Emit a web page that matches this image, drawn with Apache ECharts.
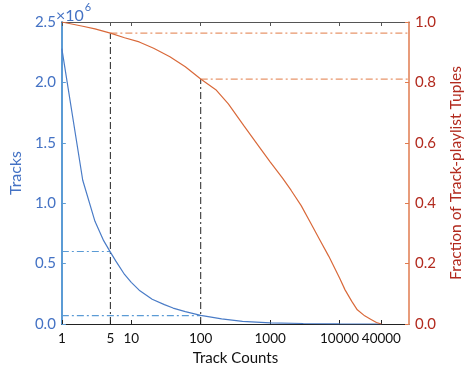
<!DOCTYPE html>
<html><head><meta charset="utf-8">
<script src="https://cdn.jsdelivr.net/npm/echarts@6/dist/echarts.min.js"></script>
<style>html,body{margin:0;padding:0;background:#fff}#c{width:472px;height:373px}</style>
</head><body><div id="c"></div>
<script>
// Data (track counts on log x axis)
const xTicks = [1, 5, 10, 100, 1000, 10000, 40000];
const yLeftTicks = [0, 0.5, 1.0, 1.5, 2.0, 2.5];
const yRightTicks = [0, 0.2, 0.4, 0.6, 0.8, 1.0];

const tracksX = [1, 2, 3, 4, 5, 6, 8, 10, 13, 20, 30, 40, 60, 100, 200, 400, 1000, 3000, 10000, 40000];
const tracksY = [2.28, 1.19, 0.85, 0.69, 0.595, 0.52, 0.41, 0.345, 0.28, 0.205, 0.16, 0.132, 0.103, 0.072, 0.042, 0.022, 0.01, 0.004, 0.001, 0.0];

const fracX = [1, 2, 3, 5, 8, 13, 21, 36, 60, 100, 165, 250, 420, 700, 1000, 1500, 2000, 2800, 3800, 5200, 7000, 10000, 12000, 15000, 18000, 23000, 28000, 34000, 40000];
const fracY = [1.0, 0.986, 0.977, 0.963, 0.948, 0.934, 0.913, 0.885, 0.852, 0.811, 0.776, 0.729, 0.656, 0.586, 0.537, 0.484, 0.443, 0.392, 0.336, 0.278, 0.224, 0.152, 0.113, 0.075, 0.047, 0.027, 0.016, 0.005, 0.0];

// reference (dash-dot) lines
const blueRef1 = [[1, 0.6], [5, 0.6]];
const blueRef2 = [[1, 0.07], [100, 0.07]];
const blackRef1 = [[5, 0], [5, 0.963]];
const blackRef2 = [[100, 0], [100, 0.811]];
const orangeRef1 = [[5, 0.963], [100000, 0.963]];
const orangeRef2 = [[100, 0.811], [100000, 0.811]];

const zip = (xs, ys) => xs.map((x, i) => [x, ys[i]]);
const FONT = 'Lato';
const dashDot = [7, 3, 2, 3];

const chart = echarts.init(document.getElementById('c'), null, {renderer: 'canvas'});
chart.setOption({
  animation: false,
  grid: {left: 57, right: 48, top: 22, bottom: 49},
  xAxis: [{
    type: 'log', logBase: 10, min: 1, max: 100000,
    name: 'Track Counts', nameLocation: 'middle', nameGap: 27,
    nameTextStyle: {color: '#111', fontSize: 15, fontFamily: FONT},
    axisLine: {onZero: false, lineStyle: {color: '#222', width: 1}},
    axisTick: {inside: true, length: 4, customValues: xTicks, lineStyle: {color: '#222'}},
    axisLabel: {customValues: xTicks, color: '#111', fontSize: 13.5, fontFamily: FONT, margin: 8,
      formatter: v => String(Math.round(v))},
    splitLine: {show: false}, minorTick: {show: false}
  }, {
    type: 'log', logBase: 10, min: 1, max: 100000, position: 'top',
    axisLine: {show: true, onZero: false, lineStyle: {color: '#555', width: 1}},
    axisTick: {show: true, inside: true, length: 4, customValues: xTicks, lineStyle: {color: '#555'}},
    axisLabel: {show: false}, splitLine: {show: false}
  }],
  yAxis: [{
    type: 'value', min: 0, max: 2.5, interval: 0.5, position: 'left',
    name: 'Tracks', nameLocation: 'middle', nameGap: 34,
    nameTextStyle: {color: '#4472C4', fontSize: 16, fontFamily: FONT},
    axisLine: {show: true, onZero: false, lineStyle: {color: '#5B9BD5', width: 2}},
    axisTick: {show: true, inside: true, length: 4, lineStyle: {color: '#5B9BD5'}},
    axisLabel: {color: '#4472C4', fontSize: 15, fontFamily: FONT, formatter: v => v.toFixed(1), margin: 6},
    splitLine: {show: false}
  }, {
    type: 'value', min: 0, max: 1.0, interval: 0.2, position: 'right',
    name: 'Fraction of Track-playlist Tuples', nameLocation: 'middle', nameGap: 39, nameRotate: 90,
    nameTextStyle: {color: '#B22A1E', fontSize: 15.5, fontFamily: FONT},
    axisLine: {show: true, onZero: false, lineStyle: {color: '#E07B4F', width: 1.5}},
    axisTick: {show: true, inside: true, length: 4, lineStyle: {color: '#E07B4F'}},
    axisLabel: {color: '#B22A1E', fontSize: 15, fontFamily: FONT, formatter: v => v.toFixed(1), margin: 6},
    splitLine: {show: false}
  }],
  graphic: [{
    type: 'text', left: 56, top: 2,
    style: {
      text: '{a|×10}{b|6}',
      rich: {
        a: {fontSize: 16, fontFamily: FONT, fill: '#4472C4', padding: [6, 0, 0, 0]},
        b: {fontSize: 11, fontFamily: FONT, fill: '#4472C4', verticalAlign: 'top', padding: [0, 0, 8, 1]}
      }
    }
  }],
  series: [
    {type: 'line', name: 'blueRef1', yAxisIndex: 0, data: blueRef1, symbol: 'none', silent: true,
      lineStyle: {color: '#5B9BD5', width: 1.2, type: dashDot}},
    {type: 'line', name: 'blueRef2', yAxisIndex: 0, data: blueRef2, symbol: 'none', silent: true,
      lineStyle: {color: '#5B9BD5', width: 1.2, type: dashDot}},
    {type: 'line', name: 'blackRef1', yAxisIndex: 1, data: blackRef1, symbol: 'none', silent: true,
      lineStyle: {color: '#222', width: 1, type: dashDot}},
    {type: 'line', name: 'blackRef2', yAxisIndex: 1, data: blackRef2, symbol: 'none', silent: true,
      lineStyle: {color: '#222', width: 1, type: dashDot}},
    {type: 'line', name: 'orangeRef1', yAxisIndex: 1, data: orangeRef1, symbol: 'none', silent: true,
      lineStyle: {color: '#E8956B', width: 1.2, type: dashDot}},
    {type: 'line', name: 'orangeRef2', yAxisIndex: 1, data: orangeRef2, symbol: 'none', silent: true,
      lineStyle: {color: '#E8956B', width: 1.2, type: dashDot}},
    {type: 'line', name: 'Tracks', yAxisIndex: 0, data: zip(tracksX, tracksY), symbol: 'none',
      lineStyle: {color: '#4A7CC7', width: 1.2}},
    {type: 'line', name: 'Fraction', yAxisIndex: 1, data: zip(fracX, fracY), symbol: 'none',
      lineStyle: {color: '#D9693A', width: 1.2}}
  ]
});
</script></body></html>
